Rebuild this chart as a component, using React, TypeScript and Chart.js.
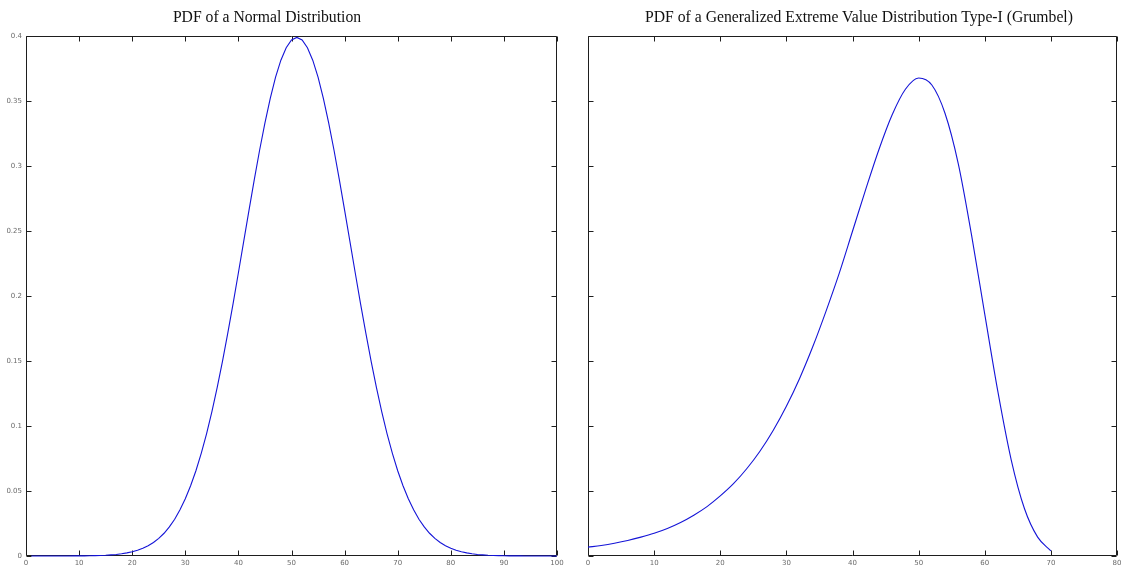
import React, { useEffect, useRef } from "react";
import { Chart, registerables } from "chart.js";

Chart.register(...registerables);

// ---------- Data ----------
const normalX: number[] = Array.from({ length: 100 }, (_, i) => i + 1);
const normalY: number[] = [
  0.0, 0.0, 0.0, 0.0, 0.0, 0.0, 0.0, 0.0, 0.0001, 0.0001,
  0.0001, 0.0002, 0.0003, 0.0004, 0.0006, 0.0009, 0.0012, 0.0017, 0.0024, 0.0033,
  0.0044, 0.006, 0.0079, 0.0104, 0.0136, 0.0175, 0.0224, 0.0283, 0.0355, 0.044,
  0.054, 0.0656, 0.079, 0.094, 0.1109, 0.1295, 0.1497, 0.1714, 0.1942, 0.2179,
  0.242, 0.2661, 0.2897, 0.3123, 0.3332, 0.3521, 0.3683, 0.3814, 0.391, 0.397,
  0.3989, 0.397, 0.391, 0.3814, 0.3683, 0.3521, 0.3332, 0.3123, 0.2897, 0.2661,
  0.242, 0.2179, 0.1942, 0.1714, 0.1497, 0.1295, 0.1109, 0.094, 0.079, 0.0656,
  0.054, 0.044, 0.0355, 0.0283, 0.0224, 0.0175, 0.0136, 0.0104, 0.0079, 0.006,
  0.0044, 0.0033, 0.0024, 0.0017, 0.0012, 0.0009, 0.0006, 0.0004, 0.0003, 0.0002,
  0.0001, 0.0001, 0.0001, 0.0, 0.0, 0.0, 0.0, 0.0, 0.0, 0.0,
];

const gumbelX: number[] = [
  0, 2, 4, 6, 8, 10, 12, 14, 16, 18, 20, 22, 24, 26, 28, 30, 32, 34,
  36, 38, 40, 42, 44, 46, 48, 50, 52, 54, 56, 58, 60, 62, 64, 66, 68, 70,
];
const gumbelY: number[] = [
  0.0068, 0.0081, 0.0098, 0.0119, 0.0145, 0.0175, 0.0212, 0.0258, 0.0314, 0.038,
  0.0462, 0.0556, 0.0671, 0.0806, 0.0966, 0.1152, 0.1366, 0.1611, 0.1884, 0.2176,
  0.2498, 0.282, 0.3127, 0.3394, 0.359, 0.3677, 0.3623, 0.3404, 0.3017, 0.247,
  0.186, 0.126, 0.074, 0.0365, 0.0145, 0.004,
];

const yTicks: number[] = [0, 0.05, 0.1, 0.15, 0.2, 0.25, 0.3, 0.35, 0.4];
const normalXTicks: number[] = [0, 10, 20, 30, 40, 50, 60, 70, 80, 90, 100];
const gumbelXTicks: number[] = [0, 10, 20, 30, 40, 50, 60, 70, 80];

const titleLeft = "PDF of a Normal Distribution";
const titleRight = "PDF of a Generalized Extreme Value Distribution Type-I (Grumbel)";

// ---------- Helpers ----------
const W = 1121;
const H = 566;
const LINE_COLOR = "rgb(20,20,215)";
const AXIS_COLOR = "#1e1e1e";
const TICK_FONT = { family: "DejaVu Sans", size: 7 };

function boxTicksPlugin(xVals: number[], yVals: number[]) {
  return {
    id: "boxTicks",
    beforeDatasetsDraw(chart: any) {
      const { ctx, chartArea } = chart;
      const l = Math.round(chartArea.left) + 0.5;
      const r = Math.round(chartArea.right) - 0.5;
      const t = Math.round(chartArea.top) + 0.5;
      const b = Math.round(chartArea.bottom) - 0.5;
      const xs = chart.scales.x;
      const ys = chart.scales.y;
      const len = 5;
      ctx.save();
      ctx.strokeStyle = AXIS_COLOR;
      ctx.lineWidth = 1;
      ctx.beginPath();
      ctx.rect(l, t, r - l, b - t);
      for (const v of xVals) {
        const px = Math.round(xs.getPixelForValue(v)) + 0.5;
        ctx.moveTo(px, b);
        ctx.lineTo(px, b - len);
        ctx.moveTo(px, t);
        ctx.lineTo(px, t + len);
      }
      for (const v of yVals) {
        const py = Math.round(ys.getPixelForValue(v)) + 0.5;
        ctx.moveTo(l, py);
        ctx.lineTo(l + len, py);
        ctx.moveTo(r, py);
        ctx.lineTo(r - len, py);
      }
      ctx.stroke();
      ctx.restore();
    },
  };
}

function makeConfig(
  xs: number[],
  ys: number[],
  xMax: number,
  xTickVals: number[],
  padLeft: number,
  padRight: number,
  yAxisWidth: number,
  showYLabels: boolean,
  monotone: boolean
): any {
  return {
    type: "line",
    data: {
      datasets: [
        {
          data: xs.map((x, i) => ({ x, y: ys[i] })),
          borderColor: LINE_COLOR,
          borderWidth: 1.1,
          pointRadius: 0,
          fill: false,
          clip: 4,
          tension: 0,
          cubicInterpolationMode: monotone ? "monotone" : "default",
        },
      ],
    },
    options: {
      responsive: false,
      animation: false,
      devicePixelRatio: 1,
      layout: { padding: { top: 36, bottom: 0, left: padLeft, right: padRight } },
      plugins: { legend: { display: false }, title: { display: false }, tooltip: { enabled: false } },
      scales: {
        x: {
          type: "linear",
          min: 0,
          max: xMax,
          afterBuildTicks: (scale: any) => {
            scale.ticks = xTickVals.map((v) => ({ value: v }));
          },
          afterFit: (scale: any) => {
            scale.height = 10;
            scale.paddingLeft = 0;
            scale.paddingRight = 0;
          },
          grid: { display: false, drawTicks: false },
          border: { display: false },
          ticks: {
            autoSkip: false,
            maxRotation: 0,
            padding: 3,
            color: "#6a6a6a",
            font: TICK_FONT,
            callback: (v: any) => String(v),
          },
        },
        y: {
          type: "linear",
          min: 0,
          max: 0.4,
          afterBuildTicks: (scale: any) => {
            scale.ticks = yTicks.map((v) => ({ value: v }));
          },
          afterFit: (scale: any) => {
            scale.width = yAxisWidth;
            scale.paddingTop = 0;
            scale.paddingBottom = 0;
          },
          grid: { display: false, drawTicks: false },
          border: { display: false },
          ticks: {
            display: showYLabels,
            autoSkip: false,
            padding: 4,
            color: "#6a6a6a",
            font: TICK_FONT,
            callback: (v: any) => String(Number(Number(v).toFixed(2))),
          },
        },
      },
    },
    plugins: [boxTicksPlugin(xTickVals, yTicks)],
  };
}

export default function App() {
  const leftRef = useRef<HTMLCanvasElement | null>(null);
  const rightRef = useRef<HTMLCanvasElement | null>(null);

  useEffect(() => {
    document.body.style.margin = "0";
    document.body.style.overflow = "hidden";
    const c1 = new Chart(
      leftRef.current as HTMLCanvasElement,
      makeConfig(normalX, normalY, 100, normalXTicks, 0, W - 557, 26, true, false)
    );
    const c2 = new Chart(
      rightRef.current as HTMLCanvasElement,
      makeConfig(gumbelX, gumbelY, 80, gumbelXTicks, 560, W - 1117, 28, false, true)
    );
    return () => {
      c1.destroy();
      c2.destroy();
    };
  }, []);

  const canvasStyle: React.CSSProperties = {
    position: "absolute",
    left: 0,
    top: 0,
    width: W,
    height: H,
  };
  const titleStyle: React.CSSProperties = {
    position: "absolute",
    top: 7,
    fontFamily: "'Liberation Serif', 'Times New Roman', serif",
    fontSize: 15.7,
    lineHeight: "20px",
    color: "#111",
    textAlign: "center",
    whiteSpace: "nowrap",
  };

  return (
    <div style={{ position: "relative", width: W, height: H, background: "#fff", overflow: "hidden" }}>
      <canvas ref={leftRef} width={W} height={H} style={canvasStyle} />
      <canvas ref={rightRef} width={W} height={H} style={canvasStyle} />
      <div style={{ ...titleStyle, left: 17, width: 500 }}>{titleLeft}</div>
      <div style={{ ...titleStyle, left: 559, width: 600 }}>{titleRight}</div>
    </div>
  );
}
